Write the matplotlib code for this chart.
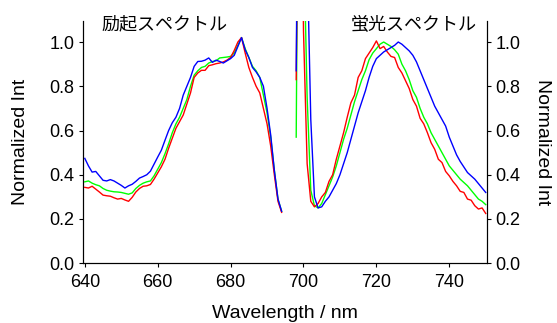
import matplotlib
matplotlib.use('Agg')
import matplotlib.pyplot as plt
import numpy as np

# --- Excitation spectra (640-694 nm, 1 nm step) ---
ex_wl = np.arange(640, 695)
ex_red = [0.343, 0.340, 0.348, 0.335, 0.322, 0.308, 0.305, 0.303, 0.296, 0.290,
          0.293, 0.286, 0.280, 0.298, 0.322, 0.338, 0.348, 0.350, 0.356, 0.380,
          0.408, 0.436, 0.470, 0.520, 0.565, 0.610, 0.640, 0.670, 0.720, 0.770,
          0.840, 0.860, 0.872, 0.872, 0.893, 0.897, 0.902, 0.905, 0.910, 0.918,
          0.930, 0.962, 1.000, 1.020, 0.950, 0.885, 0.840, 0.800, 0.770, 0.700,
          0.630, 0.530, 0.400, 0.280, 0.230]
ex_green = [0.368, 0.372, 0.362, 0.355, 0.350, 0.338, 0.330, 0.326, 0.323, 0.322,
            0.320, 0.316, 0.312, 0.318, 0.338, 0.352, 0.362, 0.368, 0.372, 0.395,
            0.425, 0.455, 0.495, 0.540, 0.590, 0.630, 0.660, 0.700, 0.740, 0.800,
            0.850, 0.870, 0.885, 0.890, 0.905, 0.912, 0.915, 0.928, 0.930, 0.932,
            0.935, 0.950, 0.985, 1.020, 0.970, 0.930, 0.890, 0.870, 0.840, 0.760,
            0.680, 0.570, 0.420, 0.290, 0.235]
ex_blue = [0.474, 0.440, 0.412, 0.415, 0.395, 0.375, 0.372, 0.378, 0.372, 0.362,
           0.352, 0.340, 0.350, 0.357, 0.370, 0.385, 0.392, 0.400, 0.416, 0.448,
           0.480, 0.511, 0.556, 0.600, 0.635, 0.660, 0.700, 0.760, 0.800, 0.840,
           0.890, 0.912, 0.913, 0.918, 0.928, 0.908, 0.918, 0.912, 0.905, 0.915,
           0.925, 0.940, 0.980, 1.020, 0.965, 0.930, 0.885, 0.865, 0.840, 0.800,
           0.700, 0.580, 0.420, 0.290, 0.235]

# --- Emission spectra (698-750 nm, 1 nm step) ---
em_wl = np.arange(698, 751)
em_red = [0.83, 2.50, 1.05, 0.45, 0.28, 0.255, 0.27, 0.30, 0.32, 0.37,
          0.40, 0.47, 0.53, 0.59, 0.66, 0.725, 0.76, 0.84, 0.87, 0.925,
          0.95, 0.975, 1.005, 0.97, 0.98, 0.955, 0.935, 0.93, 0.885, 0.86,
          0.825, 0.79, 0.74, 0.71, 0.655, 0.63, 0.59, 0.545, 0.515, 0.47,
          0.455, 0.415, 0.395, 0.37, 0.35, 0.325, 0.32, 0.29, 0.285, 0.26,
          0.245, 0.25, 0.225]
em_green = [0.57, 3.00, 1.50, 0.75, 0.33, 0.26, 0.25, 0.27, 0.31, 0.35,
            0.39, 0.44, 0.50, 0.56, 0.61, 0.67, 0.73, 0.78, 0.83, 0.87,
            0.92, 0.95, 0.97, 0.99, 1.00, 0.99, 0.98, 0.965, 0.945, 0.90,
            0.87, 0.83, 0.78, 0.75, 0.70, 0.66, 0.63, 0.59, 0.56, 0.53,
            0.50, 0.47, 0.44, 0.42, 0.40, 0.38, 0.365, 0.35, 0.33, 0.31,
            0.29, 0.28, 0.265]
em_blue = [0.87, 3.00, 2.20, 1.40, 0.65, 0.30, 0.25, 0.255, 0.28, 0.30,
           0.33, 0.36, 0.40, 0.45, 0.50, 0.56, 0.62, 0.68, 0.73, 0.78,
           0.84, 0.89, 0.925, 0.94, 0.955, 0.965, 0.975, 0.985, 1.00, 0.99,
           0.975, 0.96, 0.94, 0.91, 0.87, 0.83, 0.79, 0.75, 0.71, 0.68,
           0.65, 0.62, 0.57, 0.53, 0.49, 0.46, 0.435, 0.41, 0.395, 0.38,
           0.36, 0.34, 0.32]

x_ticks = [640, 660, 680, 700, 720, 740]
y_ticks = [0.0, 0.2, 0.4, 0.6, 0.8, 1.0]

plt.rcParams['font.family'] = ['Liberation Sans', 'Noto Sans CJK JP', 'DejaVu Sans']

fig = plt.figure(figsize=(5.57, 3.23), dpi=100)
ax = fig.add_axes([0.149, 0.185, 0.725, 0.75])

LW = 1.0
# draw order: green, red, blue (blue on top)
for wl, g, r, b in [(ex_wl, ex_green, ex_red, ex_blue), (em_wl, em_green, em_red, em_blue)]:
    ax.plot(wl, g, color='#00ff00', lw=LW)
    ax.plot(wl, r, color='#ff0000', lw=LW)
    ax.plot(wl, b, color='#0000ff', lw=LW)

ax.set_xlim(639.5, 750.3)
ax.set_ylim(0, 1.095)
ax.set_xticks(x_ticks)
ax.set_yticks(y_ticks)
ax.set_yticklabels(['%.1f' % v for v in y_ticks])
ax.spines['top'].set_visible(False)
ax.tick_params(direction='out', length=3, labelsize=13, pad=3)
ax.tick_params(axis='x', pad=5)
ax.set_xlabel('Wavelength / nm', fontsize=14, labelpad=10)
ax.set_ylabel('Normalized Int', fontsize=14, labelpad=15)

# right axis (same scale)
ax2 = ax.twinx()
ax2.set_ylim(ax.get_ylim())
ax2.set_yticks(y_ticks)
ax2.set_yticklabels(['%.1f' % v for v in y_ticks])
ax2.spines['top'].set_visible(False)
ax2.tick_params(direction='out', length=3, labelsize=13, pad=3)
ax2.set_ylabel('Normalized Int', fontsize=14, rotation=-90, labelpad=22)

# spectrum labels
ax.text(0.046, 0.983, '励起スペクトル', transform=ax.transAxes, fontsize=13,
        ha='left', va='center')
ax.text(0.976, 0.983, '蛍光スペクトル', transform=ax.transAxes, fontsize=13,
        ha='right', va='center')

fig.savefig('out.png', dpi=100)
